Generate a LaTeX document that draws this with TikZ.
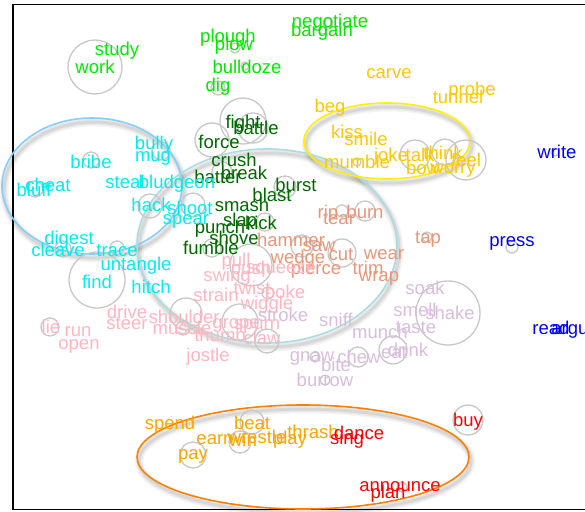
\documentclass[tikz,border=0pt]{standalone}
\usepackage{fontspec}
\setmainfont{Liberation Sans}
\definecolor{cg}{RGB}{0,235,0}
\definecolor{dg}{RGB}{0,105,0}
\definecolor{gd}{RGB}{255,200,0}
\definecolor{cy}{RGB}{0,238,238}
\definecolor{bl}{RGB}{0,0,255}
\definecolor{sa}{RGB}{233,150,122}
\definecolor{pk}{RGB}{255,182,193}
\definecolor{li}{RGB}{216,190,220}
\definecolor{orw}{RGB}{255,165,0}
\definecolor{rd}{RGB}{255,0,0}
\definecolor{ringgray}{RGB}{200,200,200}
\definecolor{ecy}{RGB}{135,206,250}
\definecolor{epb}{RGB}{170,220,225}
\definecolor{eye}{RGB}{255,240,0}
\definecolor{eor}{RGB}{255,127,0}
\begin{document}
\begin{tikzpicture}[x=1pt,y=-1pt,
  word/.style={anchor=base,yshift=-6pt,inner sep=0pt,font=\fontsize{18.5}{20}\selectfont},
  G/.style={word,text=cg}, D/.style={word,text=dg}, Y/.style={word,text=gd},
  C/.style={word,text=cy}, B/.style={word,text=bl}, S/.style={word,text=sa},
  P/.style={word,text=pk}, L/.style={word,text=li}, O/.style={word,text=orw},
  R/.style={word,text=rd},
  ring/.style={draw=ringgray,line width=1.3pt},
  shadowA/.style={draw=black,opacity=0.04,line width=9pt},
  shadowB/.style={draw=black,opacity=0.05,line width=6pt},
  shadowC/.style={draw=black,opacity=0.07,line width=3pt},
  bigell/.style={line width=1.6pt}
]
\useasboundingbox (0,0) rectangle (585,511);
\clip (0,0) rectangle (585,511);
\fill[white] (0,0) rectangle (585,511);
% frame
\draw[line width=1.5pt,black] (13,4.5) rectangle (620,509.5);
% ellipse shadows
\foreach \cx/\cy/\rx/\ry in {92/186/90/68, 267/246/130/97, 387/141/83/38, 303/457/166/52}{
  \draw[shadowA] (\cx+2,\cy+4) ellipse [x radius=\rx pt, y radius=\ry pt];
  \draw[shadowB] (\cx+2,\cy+4) ellipse [x radius=\rx pt, y radius=\ry pt];
  \draw[shadowC] (\cx+2,\cy+4) ellipse [x radius=\rx pt, y radius=\ry pt];
}
% big ellipses
\draw[bigell,draw=ecy] (92,186) ellipse [x radius=90pt, y radius=68pt];
\draw[bigell,draw=epb] (267,246) ellipse [x radius=130pt, y radius=97pt];
\draw[bigell,draw=eye] (387,141) ellipse [x radius=83pt, y radius=38pt];
\draw[bigell,draw=eor] (303,457) ellipse [x radius=166pt, y radius=52pt];
% gray circles
\foreach \cx/\cy/\r in {95/67/27, 235/48/5, 245/66/4, 218/88/7, 243/121/23, 253/128/15, 212/140/17,
  328/23/5, 323/30/4, 415/155/15, 445/152/13, 466/160/20, 357/162/4,
  91/160/8, 35/189/8, 150/206/12, 161/151/9, 117/248/7, 63/249/8, 97/280/28, 193/205/12,
  222/172/10, 285/187/11, 265/222/9, 212/248/9, 251/265/21,
  365/211/10, 342/211/6, 342/253/14, 427/237/5, 302/246/11,
  268/293/6, 186/314/16, 183/328/7, 240/322/18, 267/341/12, 50/327/9,
  448/313/32, 393/350/14, 358/357/10, 315/357/5, 325/380/5,
  555/152/4, 512/247/6, 252/422/12, 240/442/11, 193/455/13, 468/420/15, 402/487/5}{
  \draw[ring] (\cx,\cy) circle [radius=\r pt];
}
% green
\node[G] (study) at (117,50) {study};
\node[G] (work) at (95,67) {work};
\node[G] (plough) at (228,36) {plough};
\node[G] (plow) at (234,45) {plow};
\node[G] (bulldoze) at (247,67) {bulldoze};
\node[G] (dig) at (218,85) {dig};
\node[G] (negotiate) at (330,22) {negotiate};
\node[G] (bargain) at (322,31) {bargain};
% dark green
\node[D] (fight) at (243,122) {fight};
\node[D] (battle) at (256,128) {battle};
\node[D] (force) at (219,142) {force};
\node[D] (crush) at (234,160) {crush};
\node[D] (batter) at (218,177) {batter};
\node[D] (break) at (244,173) {break};
\node[D] (burst) at (296,185) {burst};
\node[D] (blast) at (272,195) {blast};
\node[D] (smash) at (242,205) {smash};
\node[D] (slap) at (240,220) {slap};
\node[D] (punch) at (220,227) {punch};
\node[D] (kick) at (261,223) {kick};
\node[D] (shove) at (234,238) {shove};
\node[D] (fumble) at (211,248) {fumble};
% gold
\node[Y] (carve) at (389,72) {carve};
\node[Y] (tunnel) at (458,97) {tunnel};
\node[Y] (probe) at (472,89) {probe};
\node[Y] (beg) at (330,106) {beg};
\node[Y] (kiss) at (347,132) {kiss};
\node[Y] (smile) at (366,139) {smile};
\node[Y] (mumble) at (357,162) {mumble};
\node[Y] (joke) at (391,155) {joke};
\node[Y] (talk) at (420,155) {talk};
\node[Y] (think) at (443,153) {think};
\node[Y] (bow) at (423,168) {bow};
\node[Y] (worry) at (453,167) {worry};
\node[Y] (feel) at (466,160) {feel};
% cyan
\node[C] (bully) at (154,143) {bully};
\node[C] (mug) at (153,155) {mug};
\node[C] (bribe) at (91,162) {bribe};
\node[C] (cheat) at (48,185) {cheat};
\node[C] (bluff) at (34,190) {bluff};
\node[C] (steal) at (125,182) {steal};
\node[C] (bludgeon) at (177,182) {bludgeon};
\node[C] (hack) at (151,205) {hack};
\node[C] (shoot) at (190,208) {shoot};
\node[C] (spear) at (186,218) {spear};
\node[C] (digest) at (69,238) {digest};
\node[C] (cleave) at (58,250) {cleave};
\node[C] (trace) at (117,250) {trace};
\node[C] (untangle) at (136,264) {untangle};
\node[C] (find) at (97,282) {find};
\node[C] (hitch) at (151,287) {hitch};
% salmon
\node[S] (rip) at (328,212) {rip};
\node[S] (burn) at (365,212) {burn};
\node[S] (tear) at (339,218) {tear};
\node[S] (tap) at (428,237) {tap};
\node[S] (hammer) at (291,240) {hammer};
\node[S] (saw) at (319,245) {saw};
\node[S] (wedge) at (298,257) {wedge};
\node[S] (cut) at (341,254) {cut};
\node[S] (wear) at (384,253) {wear};
\node[S] (pierce) at (316,268) {pierce};
\node[S] (trim) at (368,268) {trim};
\node[S] (wrap) at (379,275) {wrap};
% pink
\node[P] (pull) at (236,260) {pull};
\node[P] (push) at (251,268) {push};
\node[P] (squeeze) at (281,267) {squeeze};
\node[P] (swing) at (227,275) {swing};
\node[P] (twist) at (252,288) {twist};
\node[P] (poke) at (285,292) {poke};
\node[P] (strain) at (216,295) {strain};
\node[P] (wiggle) at (267,303) {wiggle};
\node[P] (grope) at (236,322) {grope};
\node[P] (spurn) at (257,323) {spurn};
\node[P] (shoulder) at (184,317) {shoulder};
\node[P] (muscle) at (182,328) {muscle};
\node[P] (thumb) at (220,335) {thumb};
\node[P] (claw) at (262,338) {claw};
\node[P] (jostle) at (208,355) {jostle};
\node[P] (drive) at (127,312) {drive};
\node[P] (steer) at (127,323) {steer};
\node[P] (lie) at (51,327) {lie};
\node[P] (run) at (78,330) {run};
\node[P] (open) at (79,343) {open};
% lilac
\node[L] (stroke) at (283,315) {stroke};
\node[L] (soak) at (425,288) {soak};
\node[L] (smell) at (415,310) {smell};
\node[L] (shake) at (450,313) {shake};
\node[L] (taste) at (416,327) {taste};
\node[L] (sniff) at (336,320) {sniff};
\node[L] (munch) at (380,332) {munch};
\node[L] (eat) at (394,352) {eat};
\node[L] (drink) at (408,350) {drink};
\node[L] (gnaw) at (312,355) {gnaw};
\node[L] (chew) at (359,357) {chew};
\node[L] (bite) at (336,365) {bite};
\node[L] (burrow) at (325,380) {burrow};
% blue
\node[B] (write) at (557,152) {write};
\node[B] (press) at (512,240) {press};
\node[B] (read) at (551,328) {read};
\node[B] (argue) at (575,328) {argue};
% orange
\node[O] (spend) at (170,423) {spend};
\node[O] (beat) at (252,423) {beat};
\node[O] (earn) at (215,438) {earn};
\node[O] (win) at (243,440) {win};
\node[O] (wrestle) at (257,437) {wrestle};
\node[O] (play) at (290,438) {play};
\node[O] (thrash) at (313,432) {thrash};
\node[O] (pay) at (193,453) {pay};
% red
\node[R] (dance) at (359,433) {dance};
\node[R] (sing) at (347,438) {sing};
\node[R] (buy) at (468,420) {buy};
\node[R] (announce) at (400,485) {announce};
\node[R] (plan) at (388,492) {plan};
\end{tikzpicture}
\end{document}
